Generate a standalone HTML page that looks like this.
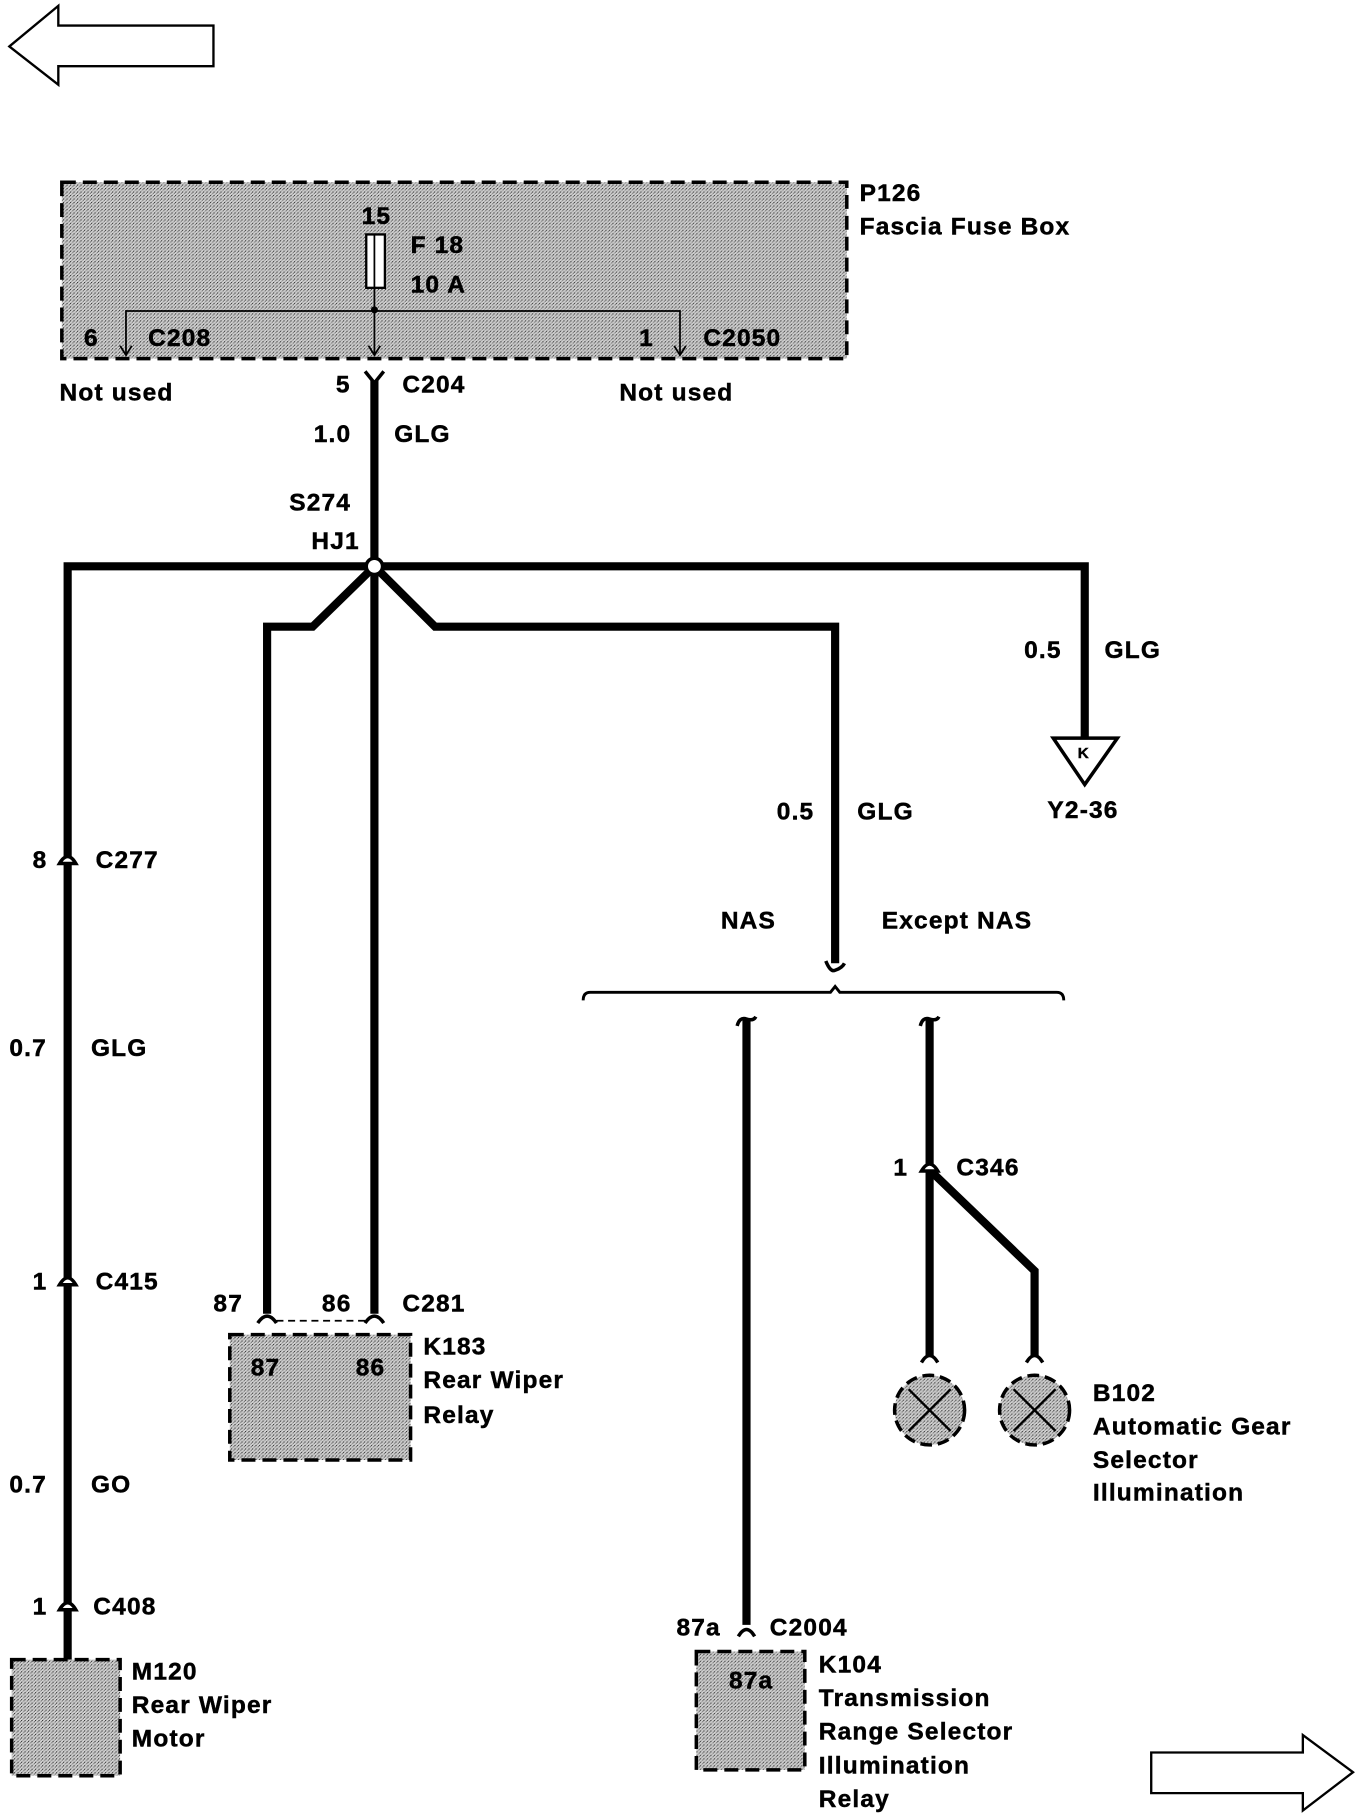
<!DOCTYPE html>
<html><head><meta charset="utf-8"><style>
html,body{margin:0;padding:0;background:#fff;}
svg{display:block;}
text{font-family:"Liberation Sans",sans-serif;font-weight:bold;font-size:21px;letter-spacing:1px;fill:#000;stroke:#000;stroke-width:0.4px;}
</style></head><body>
<svg width="1360" height="1814" viewBox="0 0 1166 1563" preserveAspectRatio="none" xmlns="http://www.w3.org/2000/svg">
<defs>
<pattern id="st" width="3" height="3" patternUnits="userSpaceOnUse">
<rect width="3" height="3" fill="#d4d4d4"/><rect width="1" height="1" fill="#333"/><rect x="2" y="1" width="1" height="1" fill="#666"/><rect x="1" y="2" width="1" height="1" fill="#999"/>
</pattern>
</defs>
<!-- arrows -->
<polygon points="8,40 50,5 50,22 183,22 183,57 50,57 50,73" fill="#fff" stroke="#000" stroke-width="2"/>
<polygon points="1160,1527 1117,1495 1117,1510 987,1510 987,1545 1117,1545 1117,1560" fill="#fff" stroke="#000" stroke-width="2"/>

<!-- fuse box -->
<rect x="53" y="157" width="673" height="152" fill="url(#st)" stroke="#000" stroke-width="3" stroke-dasharray="12,6"/>
<rect x="314" y="202" width="16" height="46" fill="#fff" stroke="#000" stroke-width="2"/>
<line x1="321" y1="202" x2="321" y2="248" stroke="#000" stroke-width="1.5"/>
<line x1="321" y1="248" x2="321" y2="305" stroke="#000" stroke-width="1.5"/>
<circle cx="321" cy="267" r="3" fill="#000"/>
<polyline points="108,305 108,268 583,268 583,305" fill="none" stroke="#000" stroke-width="1.5"/>
<path d="M103,298 L108,306 L113,298 M316,298 L321,306 L326,298 M578,298 L583,306 L588,298" fill="none" stroke="#000" stroke-width="1.5"/>
<text x="310" y="193">15</text>
<text x="352" y="218">F 18</text>
<text x="352" y="252">10 A</text>
<text x="72" y="298">6</text>
<text x="127" y="298">C208</text>
<text x="548" y="298">1</text>
<text x="603" y="298">C2050</text>
<text x="737" y="173">P126</text>
<text x="737" y="202">Fascia Fuse Box</text>
<text x="51" y="345">Not used</text>
<text x="531" y="345">Not used</text>

<!-- C204 -->
<path d="M313,320 L321,330 L329,320" fill="none" stroke="#000" stroke-width="3"/>
<text x="288" y="338">5</text>
<text x="345" y="338">C204</text>

<g stroke="#000" stroke-width="7" fill="none" stroke-linejoin="miter">
<line x1="321" y1="328" x2="321" y2="1132"/>
<polyline points="58,1430 58,488 930,488 930,636"/>
<polyline points="321,488 268,540 229,540 229,1132"/>
<polyline points="321,488 373,540 716,540 716,830"/>
<line x1="640" y1="878" x2="640" y2="1400"/>
<line x1="797" y1="878" x2="797" y2="1168"/>
<polyline points="797,1008 887,1095 887,1168"/>
</g>
<circle cx="321" cy="488" r="7" fill="#fff" stroke="#000" stroke-width="3"/>

<text x="269" y="381">1.0</text>
<text x="338" y="381">GLG</text>
<text x="248" y="440">S274</text>
<text x="267" y="473">HJ1</text>

<!-- Y2-36 -->
<polygon points="903,636 958,636 930,676" fill="#fff" stroke="#000" stroke-width="3"/>
<text x="924" y="653" style="font-size:13px;letter-spacing:0">K</text>
<text x="878" y="567">0.5</text>
<text x="947" y="567">GLG</text>
<text x="898" y="705">Y2-36</text>

<text x="666" y="706">0.5</text>
<text x="735" y="706">GLG</text>
<text x="618" y="800">NAS</text>
<text x="756" y="800">Except NAS</text>

<!-- bracket -->
<path d="M708,828 Q712,838 716,836 Q722,834 724,830" fill="none" stroke="#000" stroke-width="3"/>
<path d="M500,862 Q500,855 506,855 L712,855 L716,850 L720,855 L906,855 Q912,855 912,862" fill="none" stroke="#000" stroke-width="2.5"/>
<path d="M632,884 Q634,876 640,878 Q646,880 648,876" fill="none" stroke="#000" stroke-width="3"/>
<path d="M789,884 Q791,876 797,878 Q803,880 805,876" fill="none" stroke="#000" stroke-width="3"/>

<!-- inline connectors -->
<g fill="#fff" stroke="#000" stroke-width="3">
<path d="M51,744 Q58,732 65,744 Z"/>
<path d="M51,1107 Q58,1095 65,1107 Z"/>
<path d="M51,1387 Q58,1375 65,1387 Z"/>
<path d="M790,1009 Q797,997 804,1009 Z"/>
<path d="M633,1410 Q640,1398 647,1410" fill="none"/>
</g>
<text x="28" y="748">8</text><text x="82" y="748">C277</text>
<text x="8" y="910">0.7</text><text x="78" y="910">GLG</text>
<text x="28" y="1111">1</text><text x="82" y="1111">C415</text>
<text x="8" y="1286">0.7</text><text x="78" y="1286">GO</text>
<text x="28" y="1391">1</text><text x="80" y="1391">C408</text>
<text x="766" y="1013">1</text><text x="820" y="1013">C346</text>

<!-- K183 -->
<path d="M221,1140 Q229,1128 237,1140 M313,1140 Q321,1128 329,1140 M790,1174 Q797,1162 804,1174 M880,1174 Q887,1162 894,1174" fill="none" stroke="#000" stroke-width="3"/>
<line x1="237" y1="1138" x2="313" y2="1138" stroke="#000" stroke-width="1.5" stroke-dasharray="6,4"/>
<text x="183" y="1130">87</text><text x="276" y="1130">86</text><text x="345" y="1130">C281</text>
<rect x="197" y="1150" width="155" height="108" fill="url(#st)" stroke="#000" stroke-width="3" stroke-dasharray="12,6"/>
<text x="215" y="1185">87</text><text x="305" y="1185">86</text>
<text x="363" y="1167">K183</text><text x="363" y="1196">Rear Wiper</text><text x="363" y="1226">Relay</text>

<!-- lamps -->
<g stroke="#000" stroke-width="3">
<circle cx="797" cy="1215" r="30" fill="url(#st)" stroke-dasharray="10,5"/>
<circle cx="887" cy="1215" r="30" fill="url(#st)" stroke-dasharray="10,5"/>
<path d="M779,1197 L815,1233 M815,1197 L779,1233 M869,1197 L905,1233 M905,1197 L869,1233" stroke-width="2"/>
</g>
<text x="937" y="1207">B102</text><text x="937" y="1236">Automatic Gear</text>
<text x="937" y="1265">Selector</text><text x="937" y="1293">Illumination</text>

<!-- M120 -->
<rect x="10" y="1430" width="93" height="100" fill="url(#st)" stroke="#000" stroke-width="3" stroke-dasharray="12,6"/>
<text x="113" y="1447">M120</text><text x="113" y="1476">Rear Wiper</text><text x="113" y="1505">Motor</text>

<!-- K104 -->
<text x="580" y="1409">87a</text><text x="660" y="1409">C2004</text>
<rect x="597" y="1423" width="93" height="102" fill="url(#st)" stroke="#000" stroke-width="3" stroke-dasharray="12,6"/>
<text x="625" y="1455">87a</text>
<text x="702" y="1441">K104</text><text x="702" y="1470">Transmission</text>
<text x="702" y="1499">Range Selector</text><text x="702" y="1528">Illumination</text>
<text x="702" y="1557">Relay</text>
</svg>
</body></html>
